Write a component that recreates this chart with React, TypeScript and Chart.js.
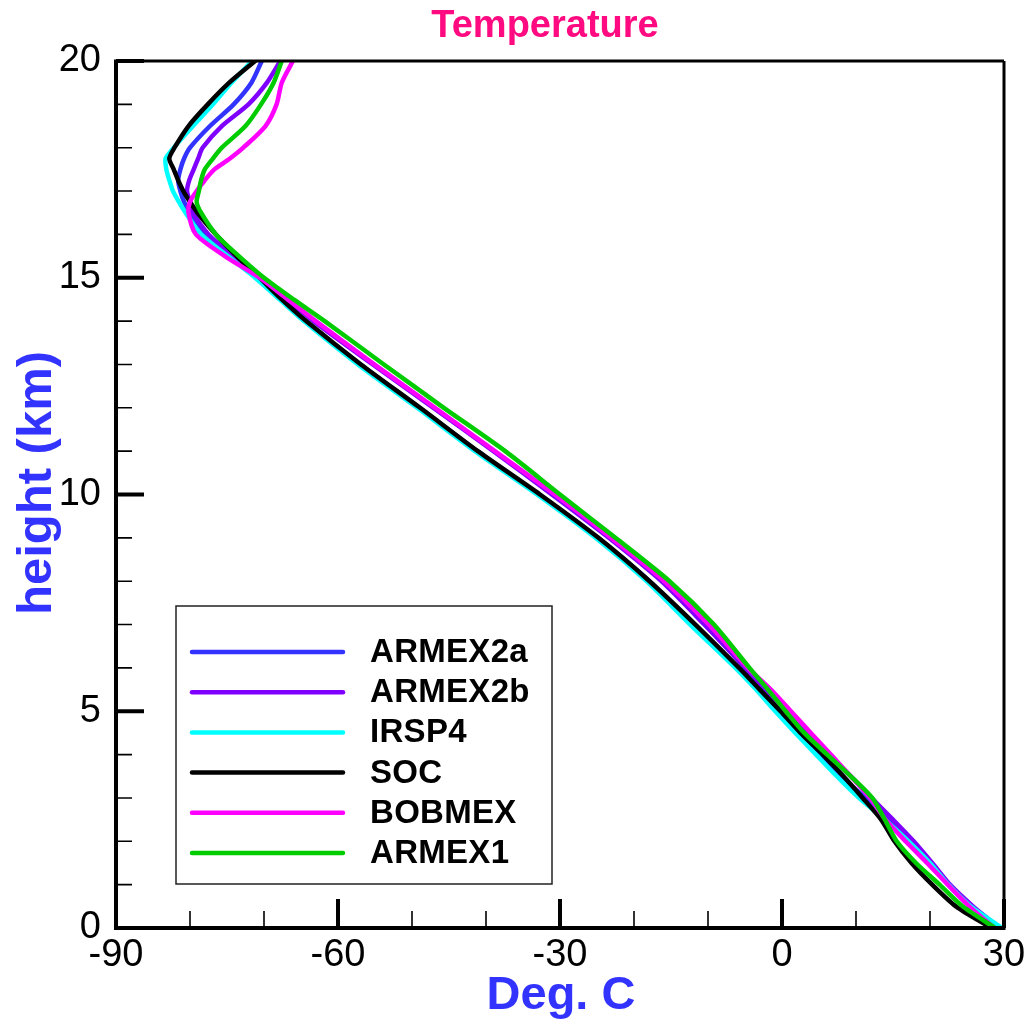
import React, { useEffect, useRef } from "react";
import { Chart, registerables } from "chart.js";

Chart.register(...registerables);

// ---- data ----
const heights = [0, 0.5, 1, 1.5, 2, 2.5, 3, 3.5, 4, 4.5, 5, 5.5, 6, 7, 8, 9, 10, 11, 12, 13, 14, 14.5, 15, 15.5, 16, 16.5, 16.75, 17, 17.25, 17.5, 17.75, 18, 18.5, 19, 19.5, 20];

const armex2a = [29.5, 25.7, 22.6, 20.2, 17.5, 14.6, 11.3, 8.0, 5.0, 2.2, -0.6, -3.3, -6.1, -12.1, -17.9, -25.0, -32.9, -41.2, -49.0, -57.0, -64.5, -67.6, -71.0, -74.5, -77.8, -80.0, -80.8, -81.3, -81.6, -81.3, -80.8, -80.0, -77.3, -74.1, -71.7, -70.3];
const armex2b = [29.3, 25.8, 22.7, 20.3, 17.8, 15.0, 12.1, 9.3, 6.2, 3.2, 0.4, -2.4, -5.0, -10.5, -16.3, -23.4, -31.1, -39.0, -47.1, -55.3, -63.3, -67.0, -70.8, -74.2, -77.5, -79.6, -80.0, -80.4, -80.1, -79.5, -78.9, -78.3, -75.7, -72.1, -69.6, -67.8];
const irsp4 = [29.7, 25.5, 22.5, 20.0, 17.1, 13.9, 10.4, 7.4, 4.6, 1.8, -0.9, -3.5, -6.3, -12.4, -18.3, -25.2, -33.1, -41.5, -49.3, -57.3, -64.6, -67.9, -71.2, -74.9, -78.5, -80.6, -81.5, -82.3, -82.8, -83.2, -83.3, -82.2, -79.6, -76.9, -74.4, -71.6];
const soc = [28.3, 23.5, 20.3, 17.5, 15.2, 13.4, 10.9, 8.3, 5.5, 2.5, -0.2, -3.0, -5.8, -11.7, -17.9, -24.8, -32.7, -41.1, -48.9, -56.9, -64.3, -67.6, -70.6, -73.7, -76.5, -79.0, -80.0, -80.9, -81.6, -82.2, -82.8, -82.1, -80.2, -77.6, -74.7, -71.2];
const bobmex = [28.7, 25.3, 22.4, 19.6, 16.7, 14.0, 11.9, 9.3, 6.6, 3.9, 1.2, -1.5, -4.6, -9.9, -15.9, -23.1, -30.7, -38.8, -46.9, -55.1, -63.0, -66.8, -70.6, -75.3, -79.2, -80.2, -80.0, -79.1, -78.0, -76.7, -74.6, -72.8, -69.8, -68.3, -67.6, -66.1];
const armex1 = [28.8, 24.4, 21.3, 18.1, 15.5, 13.9, 12.2, 9.3, 6.1, 3.0, 0.5, -1.9, -4.4, -9.2, -15.2, -22.5, -30.0, -37.4, -45.7, -53.8, -61.8, -66.0, -70.0, -73.4, -76.5, -78.5, -79.1, -78.8, -78.5, -78.0, -76.9, -75.7, -72.5, -70.4, -68.7, -67.6];

const seriesNames = ["ARMEX2a", "ARMEX2b", "IRSP4", "SOC", "BOBMEX", "ARMEX1"];
const seriesValues = [armex2a, armex2b, irsp4, soc, bobmex, armex1];
const seriesColors = ["#3333ff", "#8000ff", "#00ffff", "#000000", "#ff00ff", "#00cc00"];

const xMajorTicks = [-90, -60, -30, 0, 30];
const xMinorTicks = [-80, -70, -50, -40, -20, -10, 10, 20];
const yMajorTicks = [0, 5, 10, 15, 20];
const yMinorTicks = [1, 2, 3, 4, 6, 7, 8, 9, 11, 12, 13, 14, 16, 17, 18, 19];

const chartTitle = "Temperature";
const xTitle = "Deg. C";
const yTitle = "height (km)";

const FONT = "'Liberation Sans', Arial, Helvetica, sans-serif";

const framePlugin = {
  id: "frame",
  afterDatasetsDraw(chart: any) {
    const ctx = chart.ctx;
    const { left, right, top, bottom } = chart.chartArea;
    const xs = chart.scales.x;
    const ys = chart.scales.y;
    ctx.save();
    ctx.strokeStyle = "#000";
    ctx.lineCap = "butt";
    // spines
    ctx.lineWidth = 3;
    ctx.beginPath();
    ctx.moveTo(left, top);
    ctx.lineTo(right, top);
    ctx.moveTo(right, top);
    ctx.lineTo(right, bottom);
    ctx.stroke();
    ctx.lineWidth = 4;
    ctx.beginPath();
    ctx.moveTo(left, top - 1.5);
    ctx.lineTo(left, bottom + 2);
    ctx.moveTo(left - 2, bottom);
    ctx.lineTo(right + 1.5, bottom);
    ctx.stroke();
    // ticks
    ctx.lineWidth = 4;
    ctx.beginPath();
    xMajorTicks.forEach((v) => {
      const p = xs.getPixelForValue(v);
      ctx.moveTo(p, bottom);
      ctx.lineTo(p, bottom - 29);
    });
    yMajorTicks.forEach((v) => {
      const p = ys.getPixelForValue(v);
      ctx.moveTo(left, p);
      ctx.lineTo(left + 28, p);
    });
    ctx.stroke();
    ctx.lineWidth = 1.6;
    ctx.beginPath();
    xMinorTicks.forEach((v) => {
      const p = xs.getPixelForValue(v);
      ctx.moveTo(p, bottom);
      ctx.lineTo(p, bottom - 17);
    });
    yMinorTicks.forEach((v) => {
      const p = ys.getPixelForValue(v);
      ctx.moveTo(left, p);
      ctx.lineTo(left + 16, p);
    });
    ctx.stroke();

    // titles
    ctx.textAlign = "center";
    ctx.textBaseline = "middle";
    ctx.fillStyle = "#ff0a80";
    ctx.font = `bold 38px ${FONT}`;
    ctx.fillText(chartTitle, 545, 27);

    ctx.fillStyle = "#3333ff";
    ctx.font = `bold 47px ${FONT}`;
    ctx.fillText(xTitle, 561, 996);

    ctx.save();
    ctx.translate(37, 483);
    ctx.rotate(-Math.PI / 2);
    ctx.font = `bold 49px ${FONT}`;
    ctx.fillText(yTitle, 0, 0);
    ctx.restore();

    // legend
    const bx = 176, by = 606, bw = 376, bh = 278;
    ctx.fillStyle = "#fff";
    ctx.fillRect(bx, by, bw, bh);
    ctx.lineWidth = 1.5;
    ctx.strokeStyle = "#222";
    ctx.strokeRect(bx, by, bw, bh);
    ctx.lineCap = "round";
    ctx.font = `bold 33px ${FONT}`;
    try {
      (ctx as any).letterSpacing = "0.3px";
    } catch (e) {}
    ctx.textAlign = "left";
    ctx.textBaseline = "middle";
    seriesNames.forEach((name, i) => {
      const yy = 652 + i * 40.2;
      ctx.strokeStyle = seriesColors[i];
      ctx.lineWidth = 4.5;
      ctx.beginPath();
      ctx.moveTo(192, yy);
      ctx.lineTo(343, yy);
      ctx.stroke();
      ctx.fillStyle = "#000";
      ctx.fillText(name, 370, yy + 1);
    });
    ctx.restore();
  },
};

export default function App() {
  const canvasRef = useRef<HTMLCanvasElement | null>(null);

  useEffect(() => {
    document.body.style.margin = "0";
    const canvas = canvasRef.current;
    if (!canvas) return;
    const datasets = seriesNames.map((name, i) => ({
      label: name,
      data: heights.map((h, k) => ({ x: seriesValues[i][k], y: h })),
      borderColor: seriesColors[i],
      backgroundColor: seriesColors[i],
      borderWidth: 4.5,
      pointRadius: 0,
      showLine: true,
      tension: 0.25,
      borderJoinStyle: "round" as const,
      borderCapStyle: "round" as const,
      order: seriesNames.length - 1 - i,
    }));
    const chart = new Chart(canvas, {
      type: "scatter",
      data: { datasets },
      plugins: [framePlugin],
      options: {
        animation: false,
        responsive: false,
        devicePixelRatio: 1,
        layout: { padding: { left: 0, right: 29, top: 61, bottom: 0 } },
        plugins: {
          legend: { display: false },
          title: { display: false },
          tooltip: { enabled: false },
        },
        scales: {
          x: {
            type: "linear",
            min: -90,
            max: 30,
            grid: { display: false, drawTicks: false },
            border: { display: false },
            afterBuildTicks: (s: any) => {
              s.ticks = xMajorTicks.map((v) => ({ value: v }));
            },
            afterFit: (s: any) => {
              s.height = 98;
            },
            ticks: {
              color: "#000",
              font: { family: FONT, size: 38 },
              padding: 5,
              maxRotation: 0,
              autoSkip: false,
            },
          },
          y: {
            type: "linear",
            min: 0,
            max: 20,
            grid: { display: false, drawTicks: false },
            border: { display: false },
            afterBuildTicks: (s: any) => {
              s.ticks = yMajorTicks.map((v) => ({ value: v }));
            },
            afterFit: (s: any) => {
              s.width = 116;
            },
            ticks: {
              color: "#000",
              font: { family: FONT, size: 38 },
              padding: 15,
              autoSkip: false,
            },
          },
        },
      },
    });
    return () => chart.destroy();
  }, []);

  return (
    <div style={{ position: "fixed", left: 0, top: 0, width: 1033, height: 1026, background: "#fff" }}>
      <canvas ref={canvasRef} width={1033} height={1026} />
    </div>
  );
}
